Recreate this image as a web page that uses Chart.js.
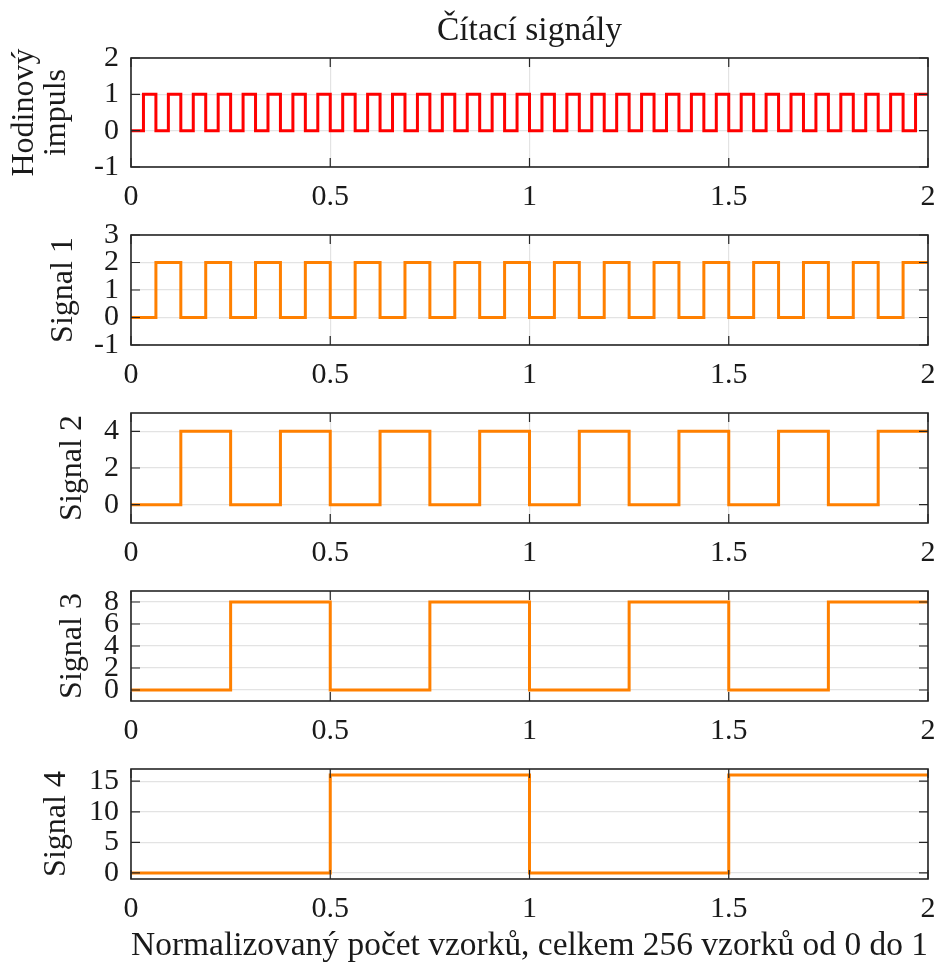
<!DOCTYPE html>
<html>
<head>
<meta charset="utf-8">
<script src="https://cdn.jsdelivr.net/npm/chart.js@4.4.1/dist/chart.umd.min.js"></script>
<style>
  html, body { margin: 0; padding: 0; background: #fff; }
  #wrap { position: relative; width: 940px; height: 967px; }
  #wrap canvas { position: absolute; left: 0; }
</style>
</head>
<body>
<div id="wrap"></div>
<script>
// sample edges (each level holds from its edge to the next one)
const edgeTimes = [
  0, 0.03125, 0.0625, 0.09375, 0.125, 0.15625, 0.1875, 0.21875,
  0.25, 0.28125, 0.3125, 0.34375, 0.375, 0.40625, 0.4375, 0.46875,
  0.5, 0.53125, 0.5625, 0.59375, 0.625, 0.65625, 0.6875, 0.71875,
  0.75, 0.78125, 0.8125, 0.84375, 0.875, 0.90625, 0.9375, 0.96875,
  1, 1.03125, 1.0625, 1.09375, 1.125, 1.15625, 1.1875, 1.21875,
  1.25, 1.28125, 1.3125, 1.34375, 1.375, 1.40625, 1.4375, 1.46875,
  1.5, 1.53125, 1.5625, 1.59375, 1.625, 1.65625, 1.6875, 1.71875,
  1.75, 1.78125, 1.8125, 1.84375, 1.875, 1.90625, 1.9375, 1.96875,
  2
];

const clockLevels = [
  0, 1, 0, 1, 0, 1, 0, 1, 0, 1, 0, 1, 0, 1, 0, 1,
  0, 1, 0, 1, 0, 1, 0, 1, 0, 1, 0, 1, 0, 1, 0, 1,
  0, 1, 0, 1, 0, 1, 0, 1, 0, 1, 0, 1, 0, 1, 0, 1,
  0, 1, 0, 1, 0, 1, 0, 1, 0, 1, 0, 1, 0, 1, 0, 1,
  1
];
const signal1Levels = [
  0, 0, 2, 2, 0, 0, 2, 2, 0, 0, 2, 2, 0, 0, 2, 2,
  0, 0, 2, 2, 0, 0, 2, 2, 0, 0, 2, 2, 0, 0, 2, 2,
  0, 0, 2, 2, 0, 0, 2, 2, 0, 0, 2, 2, 0, 0, 2, 2,
  0, 0, 2, 2, 0, 0, 2, 2, 0, 0, 2, 2, 0, 0, 2, 2,
  2
];
const signal2Levels = [
  0, 0, 0, 0, 4, 4, 4, 4, 0, 0, 0, 0, 4, 4, 4, 4,
  0, 0, 0, 0, 4, 4, 4, 4, 0, 0, 0, 0, 4, 4, 4, 4,
  0, 0, 0, 0, 4, 4, 4, 4, 0, 0, 0, 0, 4, 4, 4, 4,
  0, 0, 0, 0, 4, 4, 4, 4, 0, 0, 0, 0, 4, 4, 4, 4,
  4
];
const signal3Levels = [
  0, 0, 0, 0, 0, 0, 0, 0, 8, 8, 8, 8, 8, 8, 8, 8,
  0, 0, 0, 0, 0, 0, 0, 0, 8, 8, 8, 8, 8, 8, 8, 8,
  0, 0, 0, 0, 0, 0, 0, 0, 8, 8, 8, 8, 8, 8, 8, 8,
  0, 0, 0, 0, 0, 0, 0, 0, 8, 8, 8, 8, 8, 8, 8, 8,
  8
];
const signal4Levels = [
  0, 0, 0, 0, 0, 0, 0, 0, 0, 0, 0, 0, 0, 0, 0, 0,
  16, 16, 16, 16, 16, 16, 16, 16, 16, 16, 16, 16, 16, 16, 16, 16,
  0, 0, 0, 0, 0, 0, 0, 0, 0, 0, 0, 0, 0, 0, 0, 0,
  16, 16, 16, 16, 16, 16, 16, 16, 16, 16, 16, 16, 16, 16, 16, 16,
  16
];

const xTicks = [0, 0.5, 1, 1.5, 2];
const clockTicks = [-1, 0, 1, 2];
const signal1Ticks = [-1, 0, 1, 2, 3];
const signal2Ticks = [0, 2, 4];
const signal3Ticks = [0, 2, 4, 6, 8];
const signal4Ticks = [0, 5, 10, 15];

const chartTitle = 'Čítací signály';
const xTitle = 'Normalizovaný počet vzorků, celkem 256 vzorků od 0 do 1';

const FONT = 'Liberation Serif';
const TEXT = '#1a1a1a';

// inner tick marks + full axes box, matlab style
const boxPlugin = {
  id: 'axesBox',
  afterDatasetsDraw(chart) {
    const { ctx, chartArea: a, scales } = chart;
    const x = scales.x, y = scales.y;
    ctx.save();
    ctx.strokeStyle = '#262626';
    ctx.lineWidth = 1.2;
    ctx.beginPath();
    x.ticks.forEach(t => {
      const px = x.getPixelForValue(t.value);
      ctx.moveTo(px, a.bottom); ctx.lineTo(px, a.bottom - 9);
      ctx.moveTo(px, a.top); ctx.lineTo(px, a.top + 9);
    });
    y.ticks.forEach(t => {
      const py = y.getPixelForValue(t.value);
      ctx.moveTo(a.left, py); ctx.lineTo(a.left + 9, py);
      ctx.moveTo(a.right, py); ctx.lineTo(a.right - 9, py);
    });
    ctx.stroke();
    ctx.lineWidth = 1.6;
    ctx.strokeRect(a.left, a.top, a.right - a.left, a.bottom - a.top);
    ctx.restore();
  }
};

const panels = [
  { top: 0,   height: 212, pad: 0,  xh: 45, levels: clockLevels,   color: '#ff0000', min: -1, max: 2,  ticks: clockTicks,
    label: ['Hodinový', 'impuls'], labelPad: 9, labelLh: 1.0, title: true },
  { top: 215, height: 175, pad: 20, xh: 45, levels: signal1Levels, color: '#ff8000', min: -1, max: 3,  ticks: signal1Ticks,
    label: 'Signal 1', labelPad: 44, labelLh: 1.2 },
  { top: 393, height: 175, pad: 20, xh: 45, levels: signal2Levels, color: '#ff8000', min: -1, max: 5,  ticks: signal2Ticks,
    label: 'Signal 2', labelPad: 53, labelLh: 1.2 },
  { top: 571, height: 175, pad: 20, xh: 45, levels: signal3Levels, color: '#ff8000', min: -1, max: 9,  ticks: signal3Ticks,
    label: 'Signal 3', labelPad: 53, labelLh: 1.2 },
  { top: 749, height: 218, pad: 20, xh: 88, levels: signal4Levels, color: '#ff8000', min: -1, max: 17, ticks: signal4Ticks,
    label: 'Signal 4', labelPad: 37, labelLh: 1.2, xLabel: true }
];

const wrap = document.getElementById('wrap');

panels.forEach(p => {
  const cv = document.createElement('canvas');
  cv.width = 940;
  cv.height = p.height;
  cv.style.top = p.top + 'px';
  wrap.appendChild(cv);

  const points = edgeTimes.map((t, i) => ({ x: t, y: p.levels[i] }));

  new Chart(cv, {
    type: 'line',
    data: {
      datasets: [{
        data: points,
        borderColor: p.color,
        borderWidth: 3,
        pointRadius: 0,
        stepped: 'before',
        fill: false
      }]
    },
    options: {
      responsive: false,
      animation: false,
      devicePixelRatio: 1,
      layout: { padding: { left: 0, right: 12, top: p.pad, bottom: 0 } },
      plugins: {
        legend: { display: false },
        tooltip: { enabled: false },
        title: {
          display: !!p.title,
          text: chartTitle,
          fullSize: false,
          color: TEXT,
          font: { family: FONT, size: 33.5, weight: 'normal', lineHeight: 1.2 },
          padding: { top: 11.5, bottom: 6.3 }
        }
      },
      scales: {
        x: {
          type: 'linear',
          min: 0,
          max: 2,
          afterBuildTicks: s => { s.ticks = xTicks.map(v => ({ value: v })); },
          afterFit: s => { s.height = p.xh; s.paddingLeft = 0; s.paddingRight = 0; },
          grid: { color: '#e3e3e3', lineWidth: 1.2, drawTicks: false },
          border: { display: false },
          ticks: {
            padding: 12.5,
            color: TEXT,
            maxRotation: 0,
            autoSkip: false,
            font: { family: FONT, size: 30 },
            callback: v => String(v)
          },
          title: {
            display: !!p.xLabel,
            text: xTitle,
            color: TEXT,
            font: { family: FONT, size: 33.5, lineHeight: 1.2 },
            padding: { top: 0, bottom: 1 }
          }
        },
        y: {
          min: p.min,
          max: p.max,
          afterBuildTicks: s => { s.ticks = p.ticks.map(v => ({ value: v })); },
          afterFit: s => { s.width = 131; s.paddingTop = 0; s.paddingBottom = 0; },
          grid: { color: '#e3e3e3', lineWidth: 1.2, drawTicks: false },
          border: { display: false },
          ticks: {
            padding: 12,
            color: TEXT,
            autoSkip: false,
            font: { family: FONT, size: 30 },
            callback: v => String(v)
          },
          title: {
            display: true,
            text: p.label,
            color: TEXT,
            font: { family: FONT, size: 32, lineHeight: p.labelLh },
            padding: { top: p.labelPad, bottom: 0 }
          }
        }
      }
    },
    plugins: [boxPlugin]
  });
});
</script>
</body>
</html>
